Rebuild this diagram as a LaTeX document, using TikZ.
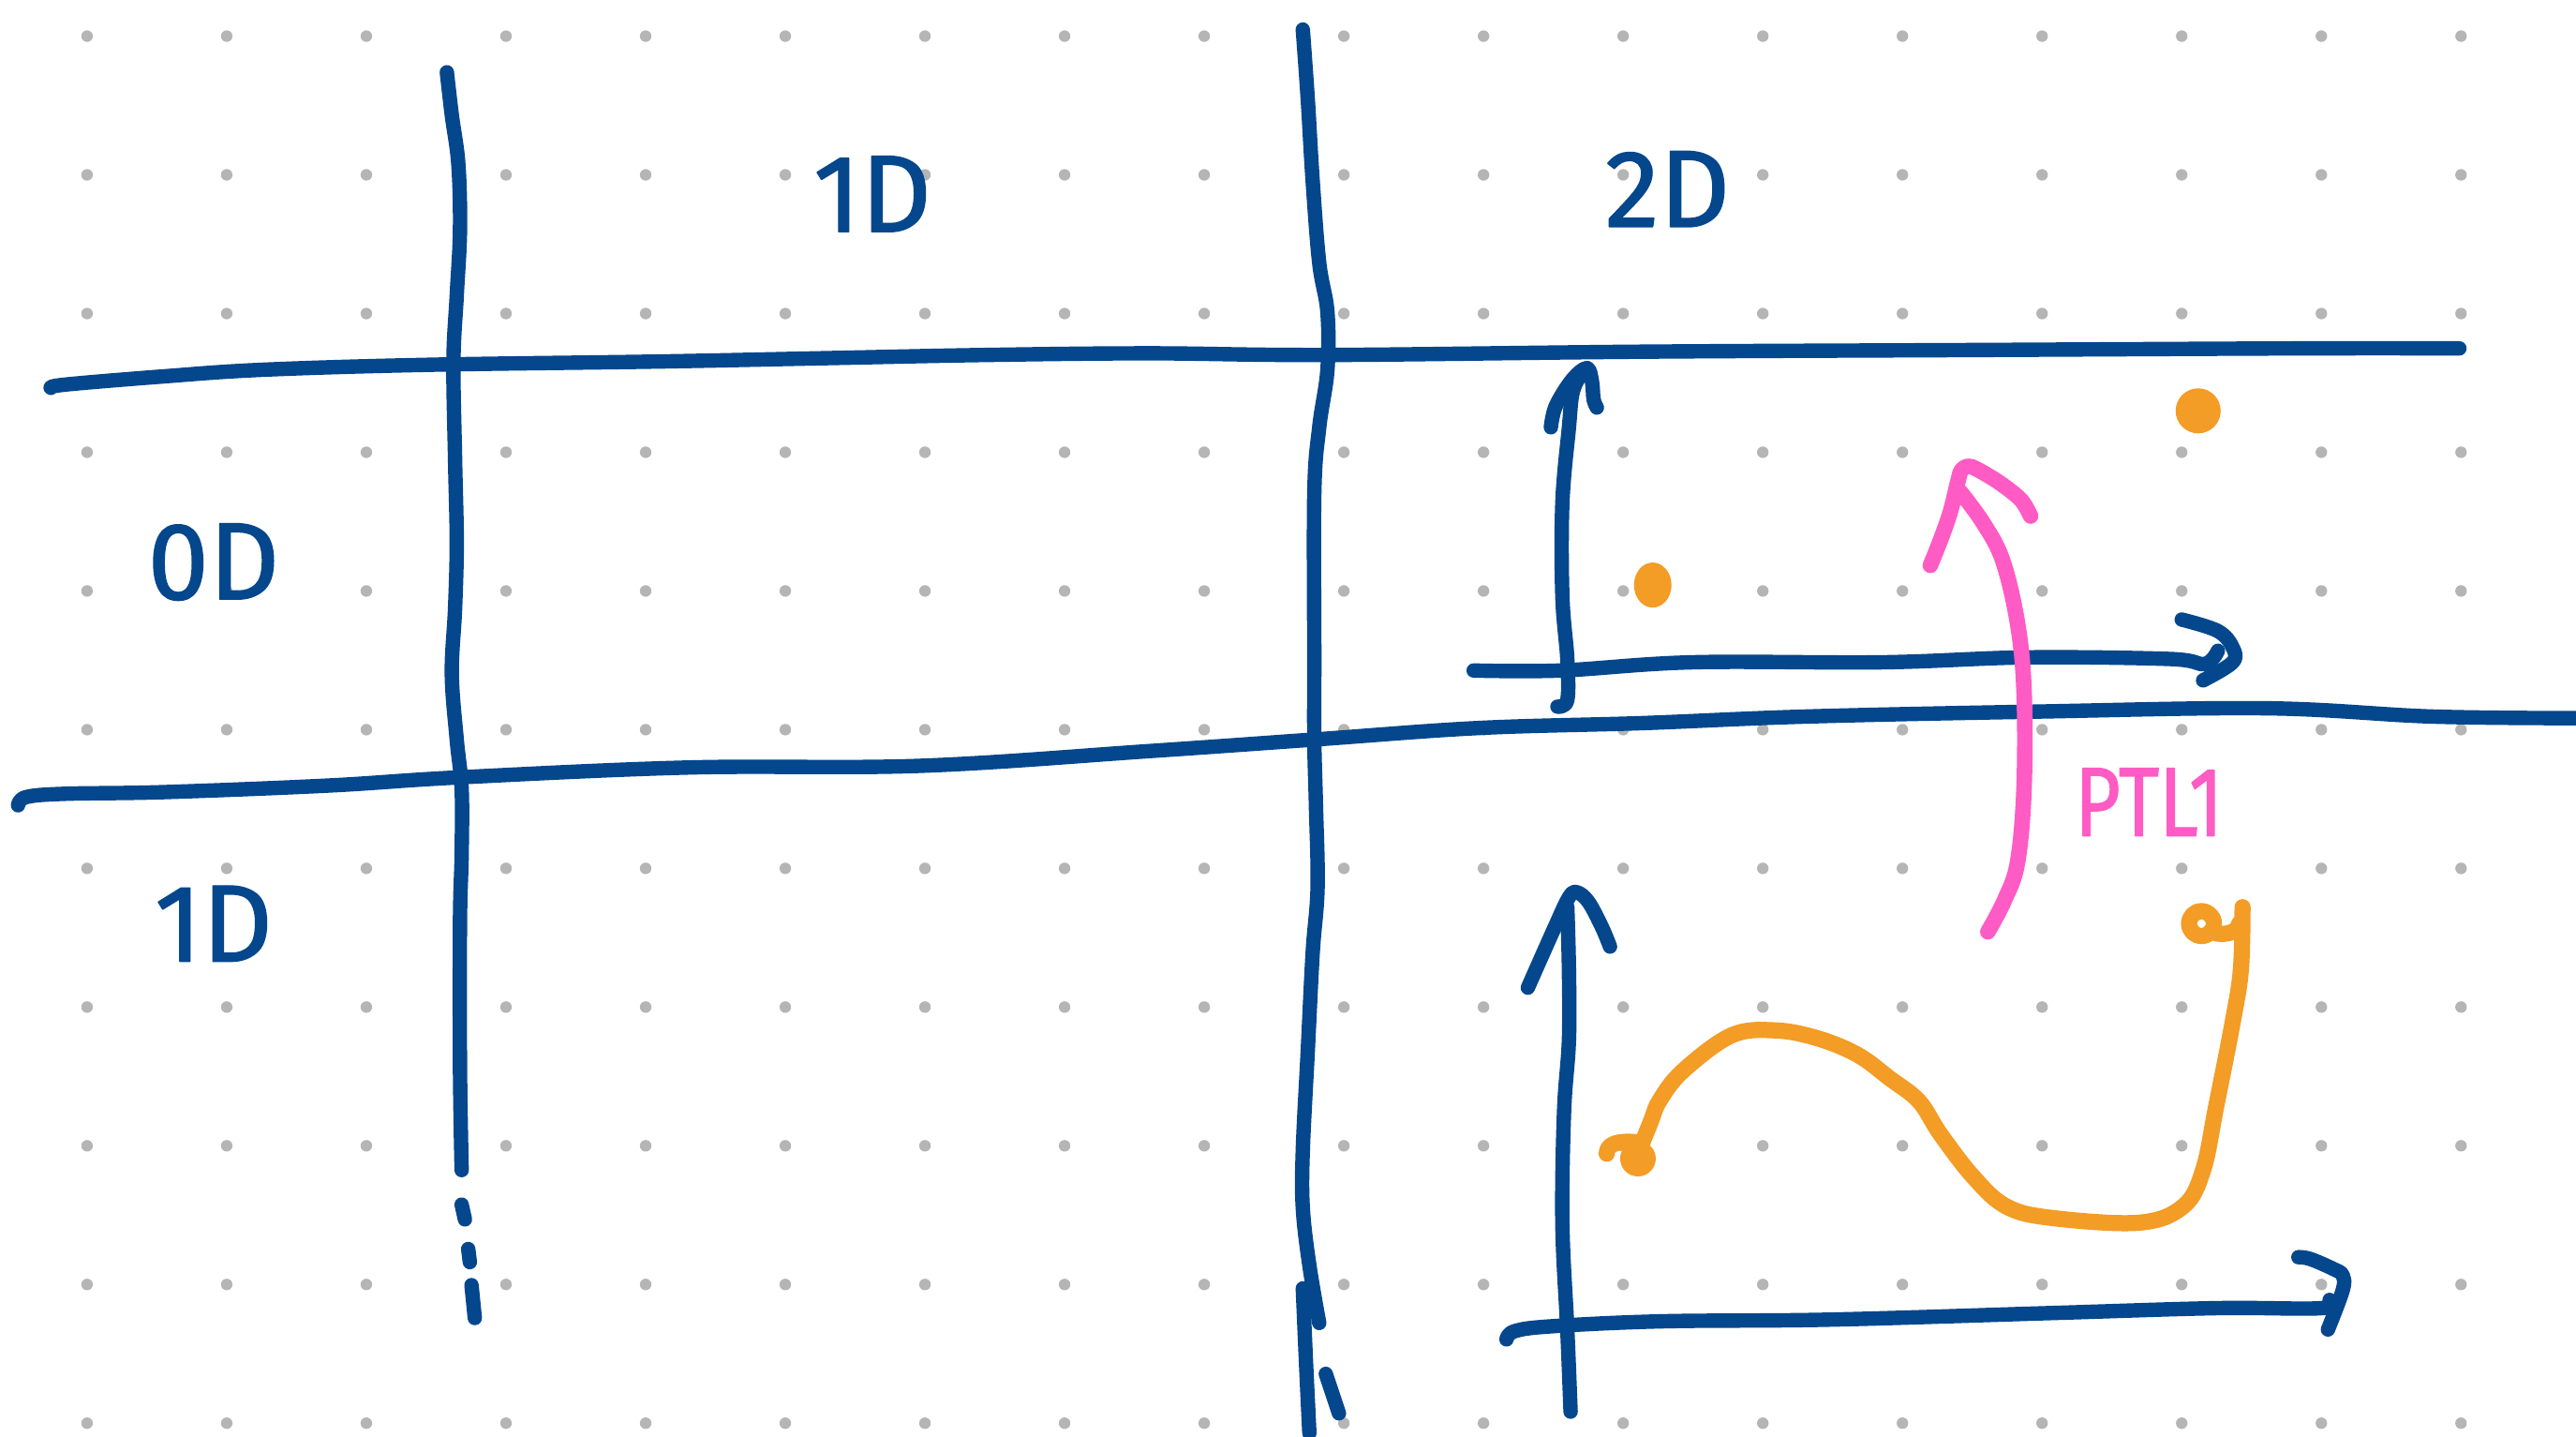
\documentclass[tikz,border=0pt]{standalone}
\usepackage{fontspec}
\setmainfont{Fira Sans}
\newfontfamily\handfont[FakeBold=1.2]{Fira Sans}
\definecolor{ink}{HTML}{05478D}
\definecolor{orng}{HTML}{F39C26}
\definecolor{pnk}{HTML}{FF5BC4}
\definecolor{dotc}{HTML}{B5B5B5}
\begin{document}
\begin{tikzpicture}[x=0.02cm,y=-0.02cm,line cap=round,line join=round,
  pen/.style={draw=ink,line width=5pt},
  open/.style={draw=orng,line width=5.6pt},
  ppen/.style={draw=pnk,line width=5.4pt},
  bluetxt/.style={text=ink,font=\handfont\fontsize{38}{40}\selectfont,inner sep=0pt},
  pinktxt/.style={text=pnk,font=\handfont\fontsize{34}{36}\selectfont,inner sep=0pt}]
\useasboundingbox (0,0) rectangle (1568,874);
\fill[white] (0,0) rectangle (1568,874);
% dot grid
\foreach \i in {0,...,17}{\foreach \j in {0,...,10}{\fill[dotc] ({53+85*\i},{22+84.4*\j}) circle[radius=2pt];}}
% vertical line 1
\draw[pen] plot[smooth,tension=0.6] coordinates {(272,44) (275,70) (279,100) (280,140) (278,180) (276,220) (277,280) (278,330) (277,370) (275,410) (278,450) (281,480) (281,520) (280,560) (280,650) (281,712)};
\draw[pen] (281,733) -- (283,742);
\draw[pen] (285,760) -- (286,768);
\draw[pen] (287,782) -- (289,802);
% vertical line 2
\draw[pen] plot[smooth,tension=0.6] coordinates {(793,18) (796,60) (799,110) (803,160) (808,190) (808,225) (803,260) (800,300) (800,400) (800,450) (801,490) (802,540) (799,580) (796,640) (793,700) (793,735) (797,770) (803,805)};
\draw[pen] plot[smooth] coordinates {(793,784) (795,830) (797,872)};
\draw[pen] (807,836) -- (815,860);
% horizontal line 1
\draw[pen] plot[smooth,tension=0.6] coordinates {(31,236) (40,234) (100,229) (160,225) (260,222) (400,220) (500,218) (600,216) (700,215) (808,216) (1000,214) (1200,213) (1400,212) (1497,212)};
% horizontal line 2
\draw[pen] plot[smooth,tension=0.6] coordinates {(11,490) (16,485) (40,483) (100,482) (200,478) (280,473) (420,467) (560,466) (700,457) (800,450) (900,443) (1000,440) (1100,436) (1240,433) (1380,431) (1480,436) (1568,437)};
% labels
\node[bluetxt] (t1d) at (531,118) {1D};
\node[bluetxt] (t2d) at (1015,115) {2D};
\node[bluetxt] (t0d) at (130,342) {0D};
\node[bluetxt] (t1dl) at (130,562) {1D};
\node[pinktxt,xscale=0.8] (tptl) at (1308,488) {PTL1};
% upper axes
\draw[pen] plot[smooth,tension=0.6] coordinates {(948,430) (954,426) (954,401) (951,363) (951,306) (955,260) (957,240) (961,230) (966,224)};
\draw[pen] plot[smooth,tension=0.6] coordinates {(944,260) (947,247) (957,231) (966,224) (969,232) (970,243) (972,248)};
\draw[pen] plot[smooth,tension=0.6] coordinates {(897,408) (950,408) (1030,403) (1146,403) (1234,400) (1321,401) (1342,404) (1350,396)};
\draw[pen] plot[smooth,tension=0.6] coordinates {(1328,377) (1350,384) (1359,394) (1359,403) (1341,414)};
% upper orange dots
\fill[orng] (1006,356) ellipse[x radius=6.5pt,y radius=7.8pt];
\fill[orng] (1338,250) ellipse[x radius=7.8pt,y radius=7.8pt];
% pink arrow
\draw[ppen] plot[smooth,tension=0.6] coordinates {(1210,567) (1220,548) (1228,525) (1232,480) (1232,420) (1228,379) (1219,341) (1207,318) (1193,299)};
\draw[ppen] plot[smooth,tension=0.5] coordinates {(1175,344) (1181,329) (1187,312) (1192,292) (1194,286) (1200,284) (1216,293) (1230,304) (1236,314)};
% lower axes
\draw[pen] plot[smooth,tension=0.6] coordinates {(956,859) (954,809) (951,745) (952,677) (955,633) (955,590) (954,552)};
\draw[pen] plot[smooth,tension=0.6] coordinates {(930,601) (946,565) (955,546) (960,543) (967,549) (975,564) (980,576)};
\draw[pen] plot[smooth,tension=0.6] coordinates {(917,815) (922,810) (945,807) (1012,804) (1113,803) (1248,799) (1349,796) (1413,796) (1418,791)};
\draw[pen] plot[smooth,tension=0.6] coordinates {(1399,765) (1406,766) (1420,772) (1426,776) (1426,785) (1417,809)};
% orange curve
\draw[open] plot[smooth,tension=0.6] coordinates {(997,702) (1005,682) (1010,670) (1024,652) (1054,630) (1081,627) (1107,632) (1131,642) (1150,656) (1168,670) (1181,690) (1201,716) (1221,734) (1248,741) (1302,744) (1329,734) (1341,712) (1349,673) (1359,622) (1364,590) (1365,552)};
\draw[open] (997,705) circle[radius=3.4pt];
\draw[open] (978,702) .. controls (978,696) and (985,694) .. (996,695);
\draw[open] (1340,562) circle[radius=4.3pt];
\draw[open] (1349,568) .. controls (1356,569) and (1362,567) .. (1363,562);
\end{tikzpicture}
\end{document}
